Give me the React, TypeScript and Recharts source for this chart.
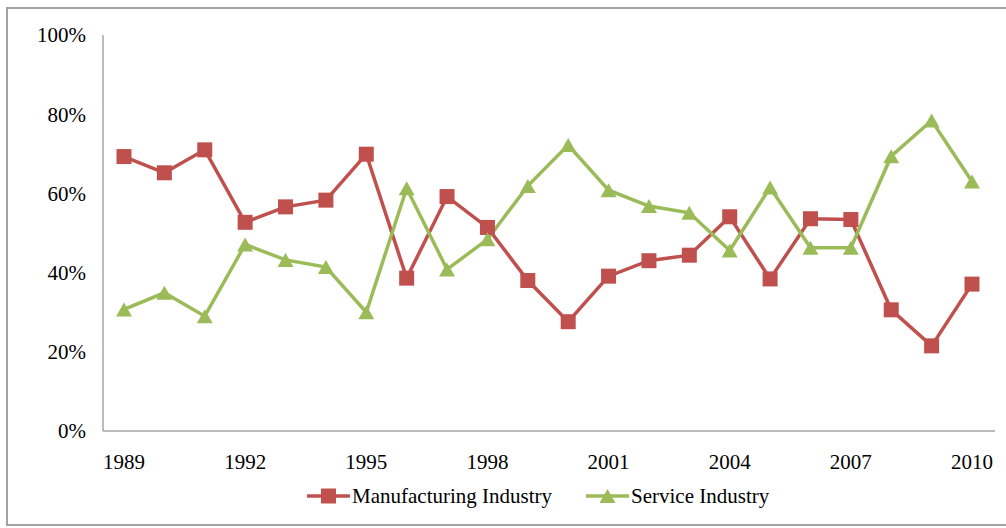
import React from 'react';
import { LineChart, Line, XAxis, YAxis, Legend } from 'recharts';

const years = ['1989','1990','1991','1992','1993','1994','1995','1996','1997','1998','1999','2000','2001','2002','2003','2004','2005','2006','2007','2008','2009','2010'];
const manufacturing = [69.3, 65.2, 71.0, 52.7, 56.6, 58.3, 69.9, 38.6, 59.2, 51.4, 38.0, 27.6, 39.1, 43.0, 44.4, 54.1, 38.4, 53.6, 53.4, 30.6, 21.5, 37.1];
const service = [30.7, 34.9, 29.0, 47.1, 43.2, 41.4, 30.0, 61.3, 40.8, 48.4, 61.9, 72.2, 60.8, 56.8, 55.1, 45.6, 61.5, 46.3, 46.3, 69.4, 78.4, 63.0];
const yTicks = [0, 20, 40, 60, 80, 100];
const seriesNames = ['Manufacturing Industry', 'Service Industry'];

const RED = '#c0504d';
const GREEN = '#9bbb59';
const FONT = '"Liberation Serif", "Times New Roman", serif';

const data = years.map((y, i) => ({ year: y, m: manufacturing[i], s: service[i] }));

const SquareDot = (props: any) => {
  const { cx, cy, index } = props;
  if (cx == null || cy == null) return null;
  return <rect key={`sq-${index}`} x={cx - 7.5} y={cy - 7.5} width={15} height={15} fill={RED} />;
};

const TriDot = (props: any) => {
  const { cx, cy, index } = props;
  if (cx == null || cy == null) return null;
  const w = 16, h = 14;
  const pts = `${cx},${cy - h / 2} ${cx + w / 2},${cy + h / 2} ${cx - w / 2},${cy + h / 2}`;
  return <polygon key={`tr-${index}`} points={pts} fill={GREEN} />;
};

const LegendContent = (props: any) => {
  const { payload } = props;
  return (
    <div style={{ display: 'flex', alignItems: 'center', paddingLeft: 307, height: 30, fontFamily: FONT, fontSize: 21, color: '#000' }}>
      {(payload || []).map((p: any, i: number) => (
        <div key={i} style={{ display: 'flex', alignItems: 'center', marginRight: 34 }}>
          <svg width={43} height={20} style={{ marginRight: 2 }}>
            <line x1={0} y1={10} x2={43} y2={10} stroke={p.color} strokeWidth={3.5} />
            {i === 0 ? (
              <rect x={14} y={2.5} width={15} height={15} fill={p.color} />
            ) : (
              <polygon points="21.5,3 29.5,17 13.5,17" fill={p.color} />
            )}
          </svg>
          <span style={{ whiteSpace: 'nowrap' }}>{p.value}</span>
        </div>
      ))}
    </div>
  );
};

export default function App() {
  return (
    <div style={{ position: 'absolute', left: 0, top: 0, width: 1006, height: 528, overflow: 'hidden', background: '#fff' }}>
      <div style={{ position: 'absolute', left: 6, top: 7, width: 1020, height: 519, border: '2px solid #a3a3a3', boxSizing: 'border-box' }} />
      <div style={{ position: 'absolute', left: 0, top: 0 }}>
        <LineChart width={1006} height={528} data={data} margin={{ top: 35, right: 11, bottom: 17, left: 0 }}>
          <XAxis
            dataKey="year"
            interval={2}
            tickLine={false}
            tickSize={0}
            tickMargin={23}
            height={50}
            padding={{ left: 21, right: 23 }}
            axisLine={{ stroke: '#a6a6a6', strokeWidth: 1.5 }}
            tick={{ fill: '#000', fontSize: 21, fontFamily: FONT }}
          />
          <YAxis
            domain={[0, 100]}
            ticks={yTicks}
            tickFormatter={(v: number) => `${v}%`}
            width={103}
            tickLine={false}
            tickSize={0}
            tickMargin={17}
            axisLine={{ stroke: '#a6a6a6', strokeWidth: 1.5 }}
            tick={{ fill: '#000', fontSize: 21, fontFamily: FONT }}
          />
          <Legend verticalAlign="bottom" wrapperStyle={{ height: 30, left: 0, width: 1006 }} content={<LegendContent />} />
          <Line type="linear" dataKey="m" name={seriesNames[0]} stroke={RED} strokeWidth={3.5} dot={<SquareDot />} activeDot={false} isAnimationActive={false} />
          <Line type="linear" dataKey="s" name={seriesNames[1]} stroke={GREEN} strokeWidth={3.5} dot={<TriDot />} activeDot={false} isAnimationActive={false} />
        </LineChart>
      </div>
    </div>
  );
}
